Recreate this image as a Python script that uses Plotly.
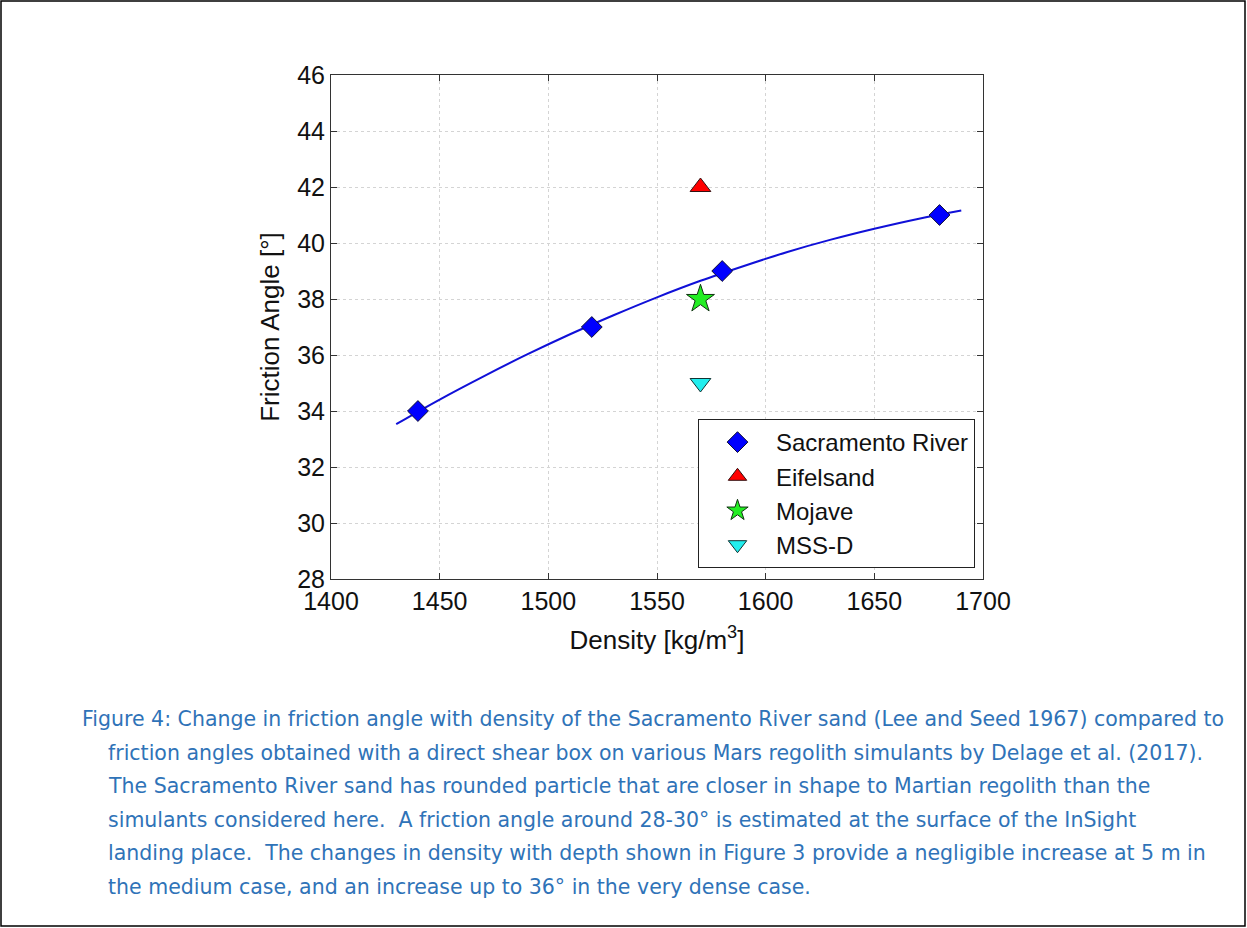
import plotly.graph_objects as go

# Sacramento River sand (Lee and Seed 1967)
sac_density = [1440, 1520, 1580, 1680]
sac_angle = [34, 37, 39, 41]

# Trend curve through the Sacramento River data
fit_density = [1430, 1450, 1470, 1490, 1510, 1530, 1550, 1570, 1590, 1610, 1630, 1650, 1670, 1690]
fit_angle = [33.53, 34.41, 35.23, 36.01, 36.74, 37.42, 38.06, 38.65, 39.18, 39.68, 40.12, 40.51, 40.86, 41.16]

# Mars regolith simulants (Delage et al. 2017)
eifel_density, eifel_angle = [1570], [42]
mojave_density, mojave_angle = [1570], [38]
mss_density, mss_angle = [1570], [35]

caption_lines = [
    "Figure 4: Change in friction angle with density of the Sacramento River sand (Lee and Seed 1967) compared to",
    "friction angles obtained with a direct shear box on various Mars regolith simulants by Delage et al. (2017).",
    "The Sacramento River sand has rounded particle that are closer in shape to Martian regolith than the",
    "simulants considered here.  A friction angle around 28-30\u00b0 is estimated at the surface of the InSight",
    "landing place.  The changes in density with depth shown in Figure 3 provide a negligible increase at 5 m in",
    "the medium case, and an increase up to 36\u00b0 in the very dense case.",
]

W, H = 1247, 928
L, R, T, B = 331, 983, 75, 579
FONT = "Liberation Sans, Arial, sans-serif"

fig = go.Figure()
fig.add_trace(go.Scatter(x=fit_density, y=fit_angle, mode="lines", line=dict(color="#1010d8", width=2, shape="spline"),
                         showlegend=False, hoverinfo="skip"))
fig.add_trace(go.Scatter(x=sac_density, y=sac_angle, mode="markers", name="Sacramento River",
                         marker=dict(symbol="diamond", size=16, color="#0000ff", line=dict(color="#111133", width=1))))
fig.add_trace(go.Scatter(x=eifel_density, y=eifel_angle, mode="markers", name="Eifelsand",
                         marker=dict(symbol="triangle-up", size=18, color="#ff0000", line=dict(color="#331111", width=1))))
fig.add_trace(go.Scatter(x=mojave_density, y=mojave_angle, mode="markers", name="Mojave",
                         marker=dict(symbol="star", size=21, color="#22ee22", line=dict(color="#113311", width=1))))
fig.add_trace(go.Scatter(x=mss_density, y=mss_angle, mode="markers", name="MSS-D",
                         marker=dict(symbol="triangle-down", size=18, color="#22eeee", line=dict(color="#113333", width=1))))

axis_common = dict(showline=True, linecolor="#333333", linewidth=1, mirror="ticks", ticks="inside", ticklen=6,
                   tickcolor="#333333", showgrid=True, gridcolor="#d4d4d4", griddash="dot", gridwidth=1,
                   zeroline=False, tickfont=dict(family=FONT, size=25, color="#111111"))

fig.update_layout(
    width=W, height=H, autosize=False,
    margin=dict(l=L, r=W - R, t=T, b=H - B),
    paper_bgcolor="white", plot_bgcolor="white",
    xaxis=dict(range=[1400, 1700], dtick=50, tick0=1400,
               title=dict(text="Density [kg/m<sup>3</sup>]", font=dict(family=FONT, size=26, color="#111111"), standoff=16),
               **axis_common),
    yaxis=dict(range=[28, 46], dtick=2, tick0=28,
               title=dict(text="Friction Angle [\u00b0]", font=dict(family=FONT, size=26, color="#111111"), standoff=10),
               **axis_common),
    legend=dict(x=(975 - L) / (R - L), y=(B - 568) / (B - T), xanchor="right", yanchor="bottom",
                bgcolor="white", bordercolor="#222222", borderwidth=1,
                font=dict(family=FONT, size=24, color="#111111"), itemsizing="trace", itemwidth=67,
                tracegroupgap=0),
    showlegend=True,
)

# Outer frame around the whole figure
fig.add_shape(type="rect", xref="paper", yref="paper",
              x0=-(L - 1) / (R - L), x1=(W - 2 - L) / (R - L),
              y0=(B - (H - 2)) / (B - T), y1=(B - 1) / (B - T),
              line=dict(color="black", width=1.5), fillcolor="rgba(0,0,0,0)", layer="below")

# Caption lines
cap_font = dict(family="DejaVu Sans, sans-serif", size=20.5, color="#2f73b8")
for i, line in enumerate(caption_lines):
    px = 80 if i == 0 else 106
    py = 719 + i * 33.6
    fig.add_annotation(text=line, xref="paper", yref="paper",
                       x=(px - L) / (R - L), y=(B - py) / (B - T),
                       xanchor="left", yanchor="middle", showarrow=False, font=cap_font)

fig.write_html("out.html")
